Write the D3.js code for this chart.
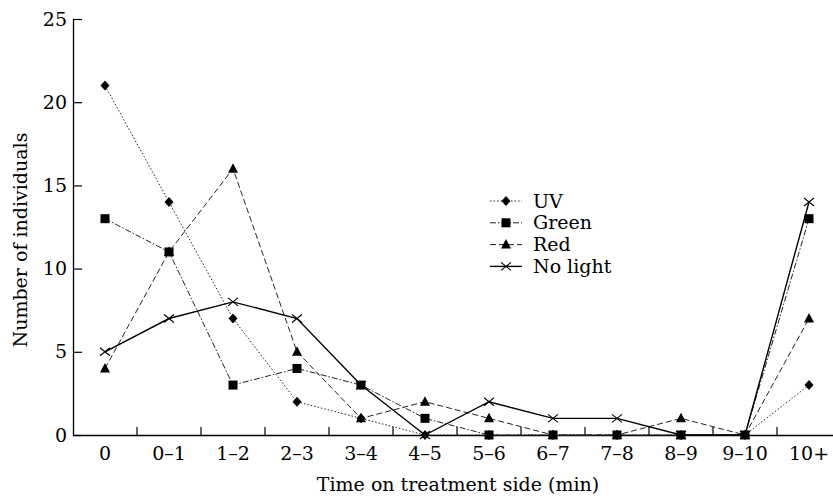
<!DOCTYPE html>
<html>
<head>
<meta charset="utf-8">
<script src="https://cdn.jsdelivr.net/npm/d3@7"></script>
<style>
  body { margin: 0; background: #fff; }
  svg { display: block; font-family: "DejaVu Serif", "Liberation Serif", serif; }
</style>
</head>
<body>
<div id="chart"></div>
<script>
const categories = ['0', '0–1', '1–2', '2–3', '3–4', '4–5', '5–6', '6–7', '7–8', '8–9', '9–10', '10+'];
const uvValues = [21, 14, 7, 2, 1, 0, 0, 0, 0, 0, 0, 3];
const greenValues = [13, 11, 3, 4, 3, 1, 0, 0, 0, 0, 0, 13];
const redValues = [4, 11, 16, 5, 1, 2, 1, 0, 0, 1, 0, 7];
const noLightValues = [5, 7, 8, 7, 3, 0, 2, 1, 1, 0, 0, 14];
const yTicks = [0, 5, 10, 15, 20, 25];

const series = [
  { name: 'UV', values: uvValues, dash: '1.5,2', width: 1, marker: 'diamond' },
  { name: 'Green', values: greenValues, dash: '6,2,1.5,2', width: 1, marker: 'square' },
  { name: 'Red', values: redValues, dash: '6,3', width: 1, marker: 'triangle' },
  { name: 'No light', values: noLightValues, dash: null, width: 1.4, marker: 'cross' }
];

const W = 833, H = 497;
const margin = { top: 19, right: -8, bottom: 62, left: 73 };
const fontSize = 19;
const fontFamily = '"DejaVu Serif", "Liberation Serif", serif';

const svg = d3.select('#chart').append('svg')
  .attr('width', W)
  .attr('height', H);

const x = d3.scaleBand()
  .domain(categories)
  .range([margin.left, W - margin.right]);

const y = d3.scaleLinear()
  .domain([0, 25])
  .range([H - margin.bottom, margin.top]);

const cx = c => x(c) + x.bandwidth() / 2;

// axes
const yAxis = svg.append('g')
  .attr('transform', `translate(${margin.left},0)`)
  .call(d3.axisLeft(y).tickValues(yTicks).tickSize(-9).tickPadding(6).tickSizeOuter(0));

const xAxis = svg.append('g')
  .attr('transform', `translate(0,${H - margin.bottom})`)
  .call(d3.axisBottom(x).tickSize(0).tickPadding(12));

[yAxis, xAxis].forEach(g => {
  g.select('.domain').attr('stroke', '#000').attr('stroke-width', 1.3);
  g.selectAll('line').attr('stroke', '#000').attr('stroke-width', 1.2);
  g.selectAll('text').attr('font-size', fontSize).attr('fill', '#000')
    .attr('font-family', fontFamily);
});

// inward ticks between the categories
svg.append('g').selectAll('line')
  .data(categories.slice(1))
  .join('line')
  .attr('x1', d => x(d)).attr('x2', d => x(d))
  .attr('y1', H - margin.bottom).attr('y2', H - margin.bottom - 8)
  .attr('stroke', '#000').attr('stroke-width', 1.2);

// axis titles
svg.append('text')
  .attr('x', 458).attr('y', 491)
  .attr('text-anchor', 'middle')
  .attr('font-size', fontSize)
  .text('Time on treatment side (min)');

svg.append('text')
  .attr('transform', `translate(27,240) rotate(-90)`)
  .attr('text-anchor', 'middle')
  .attr('font-size', fontSize)
  .text('Number of individuals');

function drawMarker(g, type, px, py) {
  if (type === 'diamond') {
    g.append('path').attr('d', `M${px},${py - 5}L${px + 4.5},${py}L${px},${py + 5}L${px - 4.5},${py}Z`).attr('fill', '#000');
  } else if (type === 'square') {
    g.append('rect').attr('x', px - 4.5).attr('y', py - 4.5).attr('width', 9).attr('height', 9).attr('fill', '#000');
  } else if (type === 'triangle') {
    g.append('path').attr('d', `M${px},${py - 5.5}L${px + 5},${py + 4}L${px - 5},${py + 4}Z`).attr('fill', '#000');
  } else {
    g.append('path').attr('d', `M${px - 5},${py - 4}L${px + 5},${py + 4}M${px - 5},${py + 4}L${px + 5},${py - 4}`)
      .attr('stroke', '#000').attr('stroke-width', 1.1).attr('fill', 'none');
  }
}

const line = d3.line()
  .x((d, i) => cx(categories[i]))
  .y(d => y(d));

series.forEach(s => {
  const g = svg.append('g');
  g.append('path')
    .attr('d', line(s.values))
    .attr('fill', 'none')
    .attr('stroke', s.dash ? '#222' : '#000')
    .attr('stroke-width', s.width)
    .attr('stroke-dasharray', s.dash);
  s.values.forEach((v, i) => drawMarker(g, s.marker, cx(categories[i]), y(v)));
});

// legend
const legend = svg.append('g').attr('transform', 'translate(490,201)');
series.forEach((s, i) => {
  const row = legend.append('g').attr('transform', `translate(0,${i * 21.8})`);
  row.append('line')
    .attr('x1', 0).attr('x2', 32).attr('y1', 0).attr('y2', 0)
    .attr('stroke', s.dash ? '#222' : '#000')
    .attr('stroke-width', s.width)
    .attr('stroke-dasharray', s.dash);
  drawMarker(row, s.marker, 16, 0);
  row.append('text')
    .attr('x', 43).attr('y', 6.5)
    .attr('font-size', fontSize)
    .text(s.name);
});
</script>
</body>
</html>
